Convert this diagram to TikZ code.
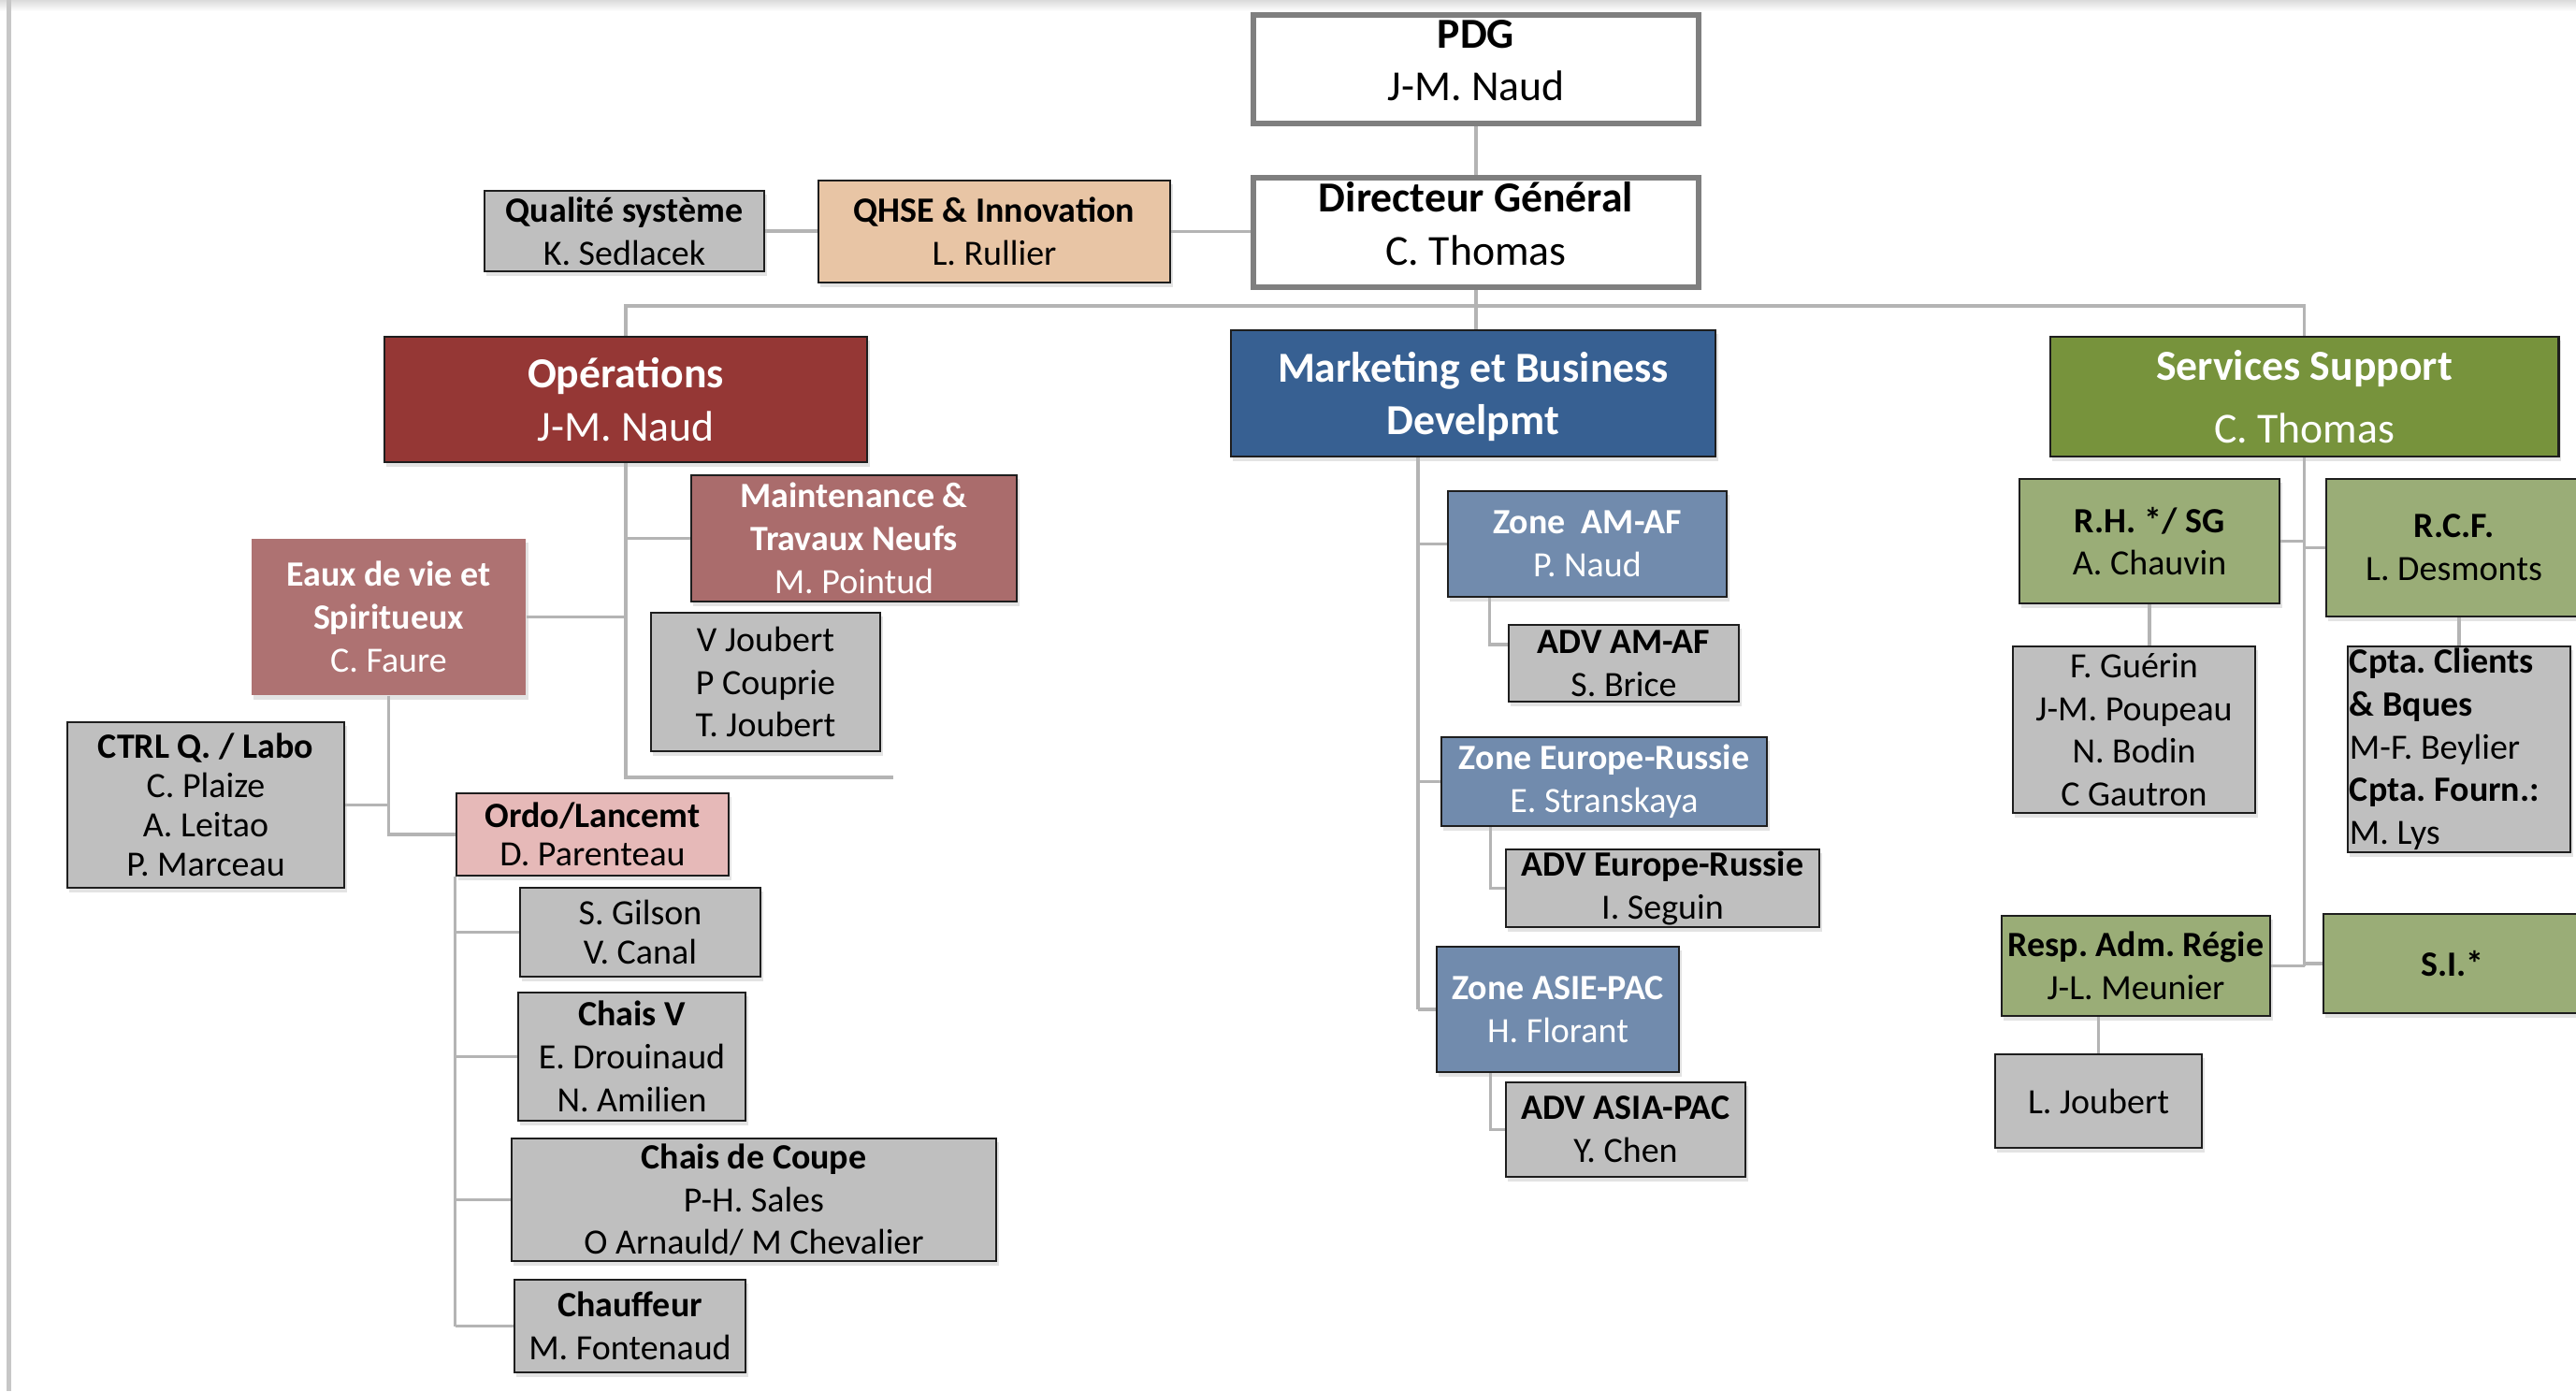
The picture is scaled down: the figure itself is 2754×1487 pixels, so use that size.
\documentclass[tikz,border=0pt]{standalone}
\usepackage{fontspec}
\setmainfont{Carlito}
\usetikzlibrary{shadows}
\definecolor{opsred}{HTML}{953735}
\definecolor{midred}{HTML}{AA6C6C}
\definecolor{eauxred}{HTML}{AE7272}
\definecolor{ordopink}{HTML}{E6B9B8}
\definecolor{mkblue}{HTML}{376092}
\definecolor{zoneblue}{HTML}{718BAD}
\definecolor{ssgreen}{HTML}{77933C}
\definecolor{ltgreen}{HTML}{9AAD77}
\definecolor{boxgray}{HTML}{BFBFBF}
\definecolor{peach}{HTML}{E8C5A5}
\definecolor{lnk}{HTML}{B4B4B4}
\definecolor{topedge}{HTML}{7F7F7F}
\definecolor{boxedge}{HTML}{1E1E1E}
\frenchspacing
\begin{document}
\begin{tikzpicture}[x=0.01cm, y=-0.01cm,
  every node/.style={inner sep=0pt, align=center},
  bigtxt/.style={font=\fontsize{13}{16}\selectfont\frenchspacing},
  smtxt/.style={font=\fontsize{10.8}{13}\selectfont\frenchspacing},
  topbox/.style={rectangle, draw=topedge, line width=1.7pt, fill=white, bigtxt, text=black, text depth=5.5pt},
  shad/.style={drop shadow={opacity=0.22, shadow xshift=0.025cm, shadow yshift=-0.045cm}},
  sbox/.style={rectangle, draw=boxedge, line width=0.75pt, smtxt, shad},
  graybox/.style={sbox, fill=boxgray, text=black},
  peachbox/.style={sbox, fill=peach, text=black},
  opsbox/.style={sbox, fill=opsred, text=white, bigtxt},
  mkbox/.style={sbox, fill=mkblue, text=white, bigtxt},
  ssbox/.style={sbox, fill=ssgreen, text=white, bigtxt},
  maintbox/.style={sbox, fill=midred, text=white},
  eauxbox/.style={rectangle, fill=eauxred, text=white, smtxt, shad},
  ordobox/.style={sbox, fill=ordopink, text=black},
  zonebox/.style={sbox, fill=zoneblue, text=white},
  greenbox/.style={sbox, fill=ltgreen, text=black},
  link/.style={draw=lnk, line width=0.9pt}
]
\useasboundingbox (0,0) rectangle (2754,1487);
\fill[white] (0,0) rectangle (2754,1487);
\shade[top color=black!14, bottom color=white] (0,0) rectangle (2754,12);
\draw[black!22, line width=0.045cm] (9.5,0) -- (9.5,1487);

% top
\node[topbox, minimum width=4.76cm, minimum height=1.16cm] (pdg) at (1578,74) {\textbf{PDG}\\J-M. Naud};
\node[topbox, minimum width=4.76cm, minimum height=1.17cm] (dg) at (1578,248.5) {\textbf{Directeur Général}\\C. Thomas};
\node[peachbox, minimum width=3.76cm, minimum height=1.09cm] (qhse) at (1063,247.5) {\textbf{QHSE \& Innovation}\\L. Rullier};
\node[graybox, minimum width=2.99cm, minimum height=0.86cm] (qs) at (667.5,247) {\textbf{Qualité système}\\K. Sedlacek};

% divisions
\node[opsbox, minimum width=5.16cm, minimum height=1.34cm] (ops) at (669,427) {\textbf{Opérations}\\J-M. Naud};
\node[mkbox, minimum width=5.18cm, minimum height=1.35cm] (mk) at (1575,420.5) {\rule{0pt}{11pt}\textbf{Marketing et Business}\\\textbf{Develpmt}};
\node[ssbox, minimum width=5.43cm, minimum height=1.28cm] (ss) at (2463.5,424) {\textbf{Services Support}\\[3pt]C. Thomas};

% operations
\node[maintbox, minimum width=3.48cm, minimum height=1.35cm] (mt) at (913,575.5) {\textbf{Maintenance \&}\\\textbf{Travaux Neufs}\\M. Pointud};
\node[graybox, minimum width=2.45cm, minimum height=1.48cm] (vj) at (818.5,729) {V Joubert\\P Couprie\\T. Joubert};
\node[eauxbox, minimum width=2.93cm, minimum height=1.67cm] (eaux) at (415.5,659.5) {\textbf{Eaux de vie et}\\\textbf{Spiritueux}\\C. Faure};
\node[graybox, minimum width=2.96cm, minimum height=1.77cm, font=\fontsize{10.8}{12}\selectfont] (ctrl) at (220,860.5) {\textbf{CTRL Q. / Labo}\\C. Plaize\\A. Leitao\\P. Marceau};
\node[ordobox, minimum width=2.91cm, minimum height=0.88cm, font=\fontsize{10.8}{11.6}\selectfont] (ordo) at (633.5,892) {\textbf{Ordo/Lancemt}\\D. Parenteau};
\node[graybox, minimum width=2.57cm, minimum height=0.95cm, font=\fontsize{10.8}{12}\selectfont] (gil) at (684.5,996.5) {S. Gilson\\V. Canal};
\node[graybox, minimum width=2.43cm, minimum height=1.37cm] (cv) at (675.5,1129.5) {\textbf{Chais V}\\E. Drouinaud\\N. Amilien};
\node[graybox, minimum width=5.18cm, minimum height=1.31cm] (cc) at (806,1282.5) {\textbf{Chais de Coupe}\\P-H. Sales\\O Arnauld/ M Chevalier};
\node[graybox, minimum width=2.47cm, minimum height=0.99cm] (chf) at (673.5,1417.5) {\textbf{Chauffeur}\\M. Fontenaud};

% marketing
\node[zonebox, minimum width=2.98cm, minimum height=1.13cm] (zam) at (1697,581.5) {\textbf{Zone~\ AM-AF}\\P. Naud};
\node[graybox, minimum width=2.46cm, minimum height=0.82cm] (aam) at (1736,709) {\textbf{ADV AM-AF}\\S. Brice};
\node[zonebox, minimum width=3.48cm, minimum height=0.95cm] (zeu) at (1715,835.5) {\textbf{Zone Europe-Russie}\\E. Stranskaya};
\node[graybox, minimum width=3.35cm, minimum height=0.83cm] (aeu) at (1777.5,949.5) {\textbf{ADV Europe-Russie}\\I. Seguin};
\node[zonebox, minimum width=2.59cm, minimum height=1.34cm] (zas) at (1665.5,1079) {\textbf{Zone ASIE-PAC}\\H. Florant};
\node[graybox, minimum width=2.56cm, minimum height=1.01cm] (aas) at (1738,1207.5) {\textbf{ADV ASIA-PAC}\\Y. Chen};

% services support
\node[greenbox, minimum width=2.78cm, minimum height=1.33cm] (rh) at (2298,578.5) {\textbf{R.H. */ SG}\\A. Chauvin};
\node[greenbox, minimum width=2.73cm, minimum height=1.47cm] (rcf) at (2623.5,585.5) {\textbf{R.C.F.}\\L. Desmonts};
\node[graybox, minimum width=2.59cm, minimum height=1.78cm] (gue) at (2281.5,780) {F. Guérin\\J-M. Poupeau\\N. Bodin\\C Gautron};
\node[graybox, text width=2.34cm, inner xsep=0.02cm, minimum height=2.2cm, align=flush left] (cpta) at (2629,801) {\spaceskip=0pt\xspaceskip=0pt\relax\textbf{Cpta. Clients}\\\textbf{\& Bques}\\M-F. Beylier\\\textbf{Cpta. Fourn.:}\\M. Lys};
\node[greenbox, minimum width=2.87cm, minimum height=1.07cm] (resp) at (2283.5,1032.5) {\textbf{Resp. Adm. Régie}\\J-L. Meunier};
\node[greenbox, minimum width=2.76cm, minimum height=1.06cm] (si) at (2622,1030) {\textbf{S.I.*}};
\node[graybox, minimum width=2.21cm, minimum height=1.00cm] (lj) at (2243.5,1177) {L. Joubert};

% connectors
\coordinate (bar) at (0,327);
\coordinate (opsend) at (955,831);
\coordinate (mkx) at (1516,0);
\draw[link] (pdg) -- (dg);
\draw[link] (qs.east) -- (qs.east -| qhse.west);
\draw[link] (qhse.east) -- (qhse.east -| dg.west);
\draw[link] (ops.north) -- (ops.north |- bar) -- (ss.north |- bar) -- (ss.north);
\draw[link] (dg.south) -- (dg.south |- mk.north);

\draw[link] (ops.south) -- (ops.south |- opsend) -- (opsend);
\draw[link] (mt.west -| ops.south) -- (mt.west);
\draw[link] (eaux.east) -- (eaux.east -| ops.south);
\draw[link] (eaux.south) -- (eaux.south |- ordo.west) -- (ordo.west);
\draw[link] (ctrl.east) -- (ctrl.east -| eaux.south);
\draw[link] (ordo.south west) -- (ordo.south west |- chf.west);
\foreach \c in {gil,cv,cc,chf} {\draw[link] (\c.west -| ordo.south west) -- (\c.west);}

\draw[link] (mk.south -| mkx) -- (mkx |- zas.west);
\foreach \c in {zam,zeu,zas} {\draw[link] (\c.west -| mkx) -- (\c.west);}
\draw[link] ([xshift=0.46cm]zam.south west) |- ([yshift=0.2cm]aam.west);
\draw[link] ([xshift=0.54cm]zeu.south west) |- (aeu.west);
\draw[link] ([xshift=0.59cm]zas.south west) |- (aas.west);

\draw[link] (ss.south) -- (ss.south |- resp.east);
\draw[link] (rh.east) -- (rh.east -| ss.south);
\draw[link] (rcf.west -| ss.south) -- (rcf.west);
\draw[link] (resp.east) -- (resp.east -| ss.south);
\draw[link] (si.west -| ss.south) -- (si.west);
\draw[link] (rh.south) -- (rh.south |- gue.north);
\draw[link] (cpta.north |- rcf.south) -- (cpta.north);
\draw[link] (lj.north |- resp.south) -- (lj.north);
\end{tikzpicture}
\end{document}
